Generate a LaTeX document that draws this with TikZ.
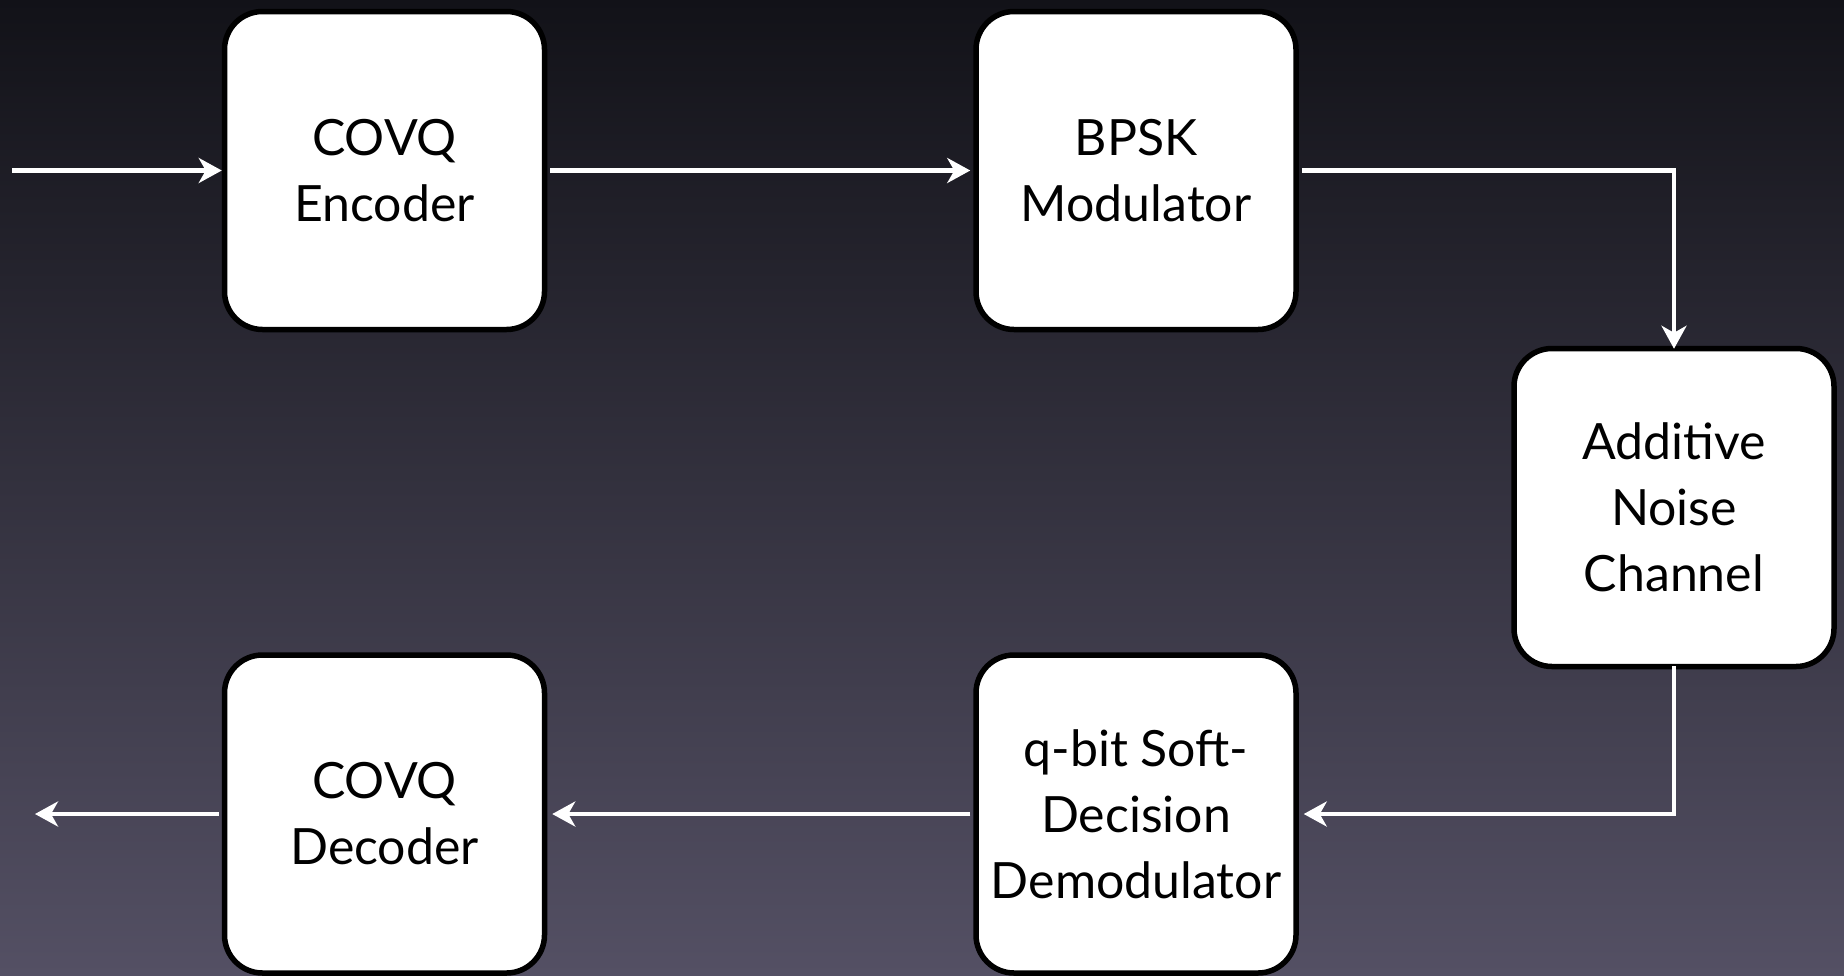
\documentclass[tikz,border=0pt]{standalone}
\usepackage{fontspec}
\setmainfont{Lato}
\usetikzlibrary{arrows.meta}
\definecolor{bgtop}{RGB}{18,18,24}
\definecolor{bgbot}{RGB}{84,80,100}
\begin{document}
\begin{tikzpicture}[x=1pt,y=-1pt,
  blk/.style={draw=black, fill=white, line width=5.5pt, rounded corners=38pt,
    minimum width=320pt, minimum height=318pt, align=center, inner sep=0pt,
    font=\fontsize{50}{66}\selectfont},
  flow/.style={draw=white, line width=4.5pt,
    -{Stealth[length=23pt, width=25pt, inset=7pt]}}]
\useasboundingbox (0,0) rectangle (1844,975);
\shade[top color=bgtop, bottom color=bgbot] (0,0) rectangle (1844,975);
\node[blk] (enc) at (384.5,170.5) {COVQ\\Encoder};
\node[blk] (mod) at (1136,170.5) {BPSK\\Modulator};
\node[blk] (chan) at (1674,507.5) {Additive\\Noise\\Channel};
\node[blk] (dem) at (1136,814) {q-bit Soft-\\Decision\\Demodulator};
\node[blk] (dec) at (384.5,814) {COVQ\\Decoder};
\coordinate (src) at (12,170.5);
\coordinate (snk) at (35,814);
\draw[flow] (src) -- (enc.west);
\draw[flow] ([xshift=3pt]enc.east) -- ([xshift=-3pt]mod.west);
\draw[flow] ([xshift=3pt]mod.east) -| ([yshift=-3pt]chan.north);
\draw[flow] ([yshift=3pt]chan.south) |- ([xshift=5pt]dem.east);
\draw[flow] ([xshift=-3pt]dem.west) -- ([xshift=5pt]dec.east);
\draw[flow] ([xshift=-3pt]dec.west) -- (snk);
\end{tikzpicture}
\end{document}
